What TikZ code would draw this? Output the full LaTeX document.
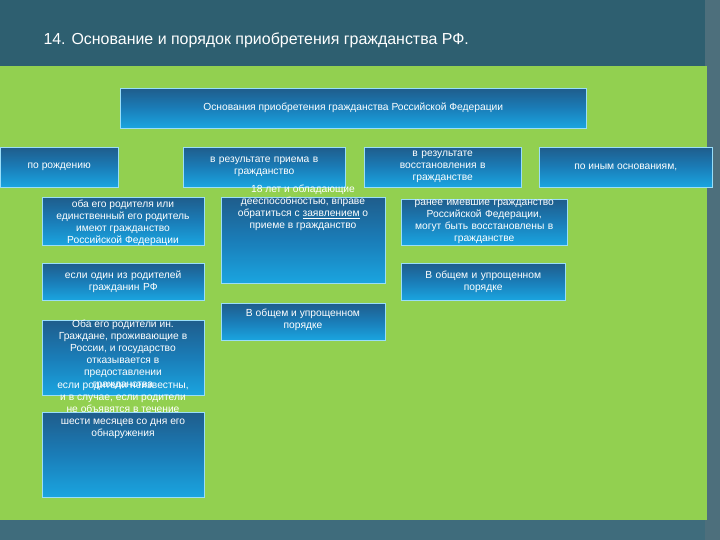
\documentclass[tikz,border=0pt]{standalone}
\usepackage{fontspec}
\setmainfont{Liberation Sans}
\usetikzlibrary{backgrounds}
\begin{document}
\begin{tikzpicture}[x=1bp,y=-1bp,
  fnt/.style={font=\fontsize{10.3}{12}\selectfont},
  bx/.style={draw=cyan!40!white,line width=0.4bp,top color=boxtop,bottom color=boxbot,middle color=boxmid,
     text=white,fnt,align=center,inner sep=1bp,anchor=north west},
  tx/.style={text=white,fnt,align=center,anchor=north,inner sep=0bp},
  ln/.style={draw=linec,line width=0.8bp}]
\definecolor{bg}{HTML}{2E5F70}
\definecolor{bgb}{HTML}{3F6C7C}
\definecolor{strip}{HTML}{4D6F7C}
\definecolor{grn}{HTML}{92D050}
\definecolor{boxtop}{HTML}{1F5D8C}
\definecolor{boxmid}{HTML}{1A7DB8}
\definecolor{boxbot}{HTML}{1AA5E0}
\definecolor{linec}{HTML}{4A8FB8}
\useasboundingbox (0,0) rectangle (720,540);
\fill[bg] (0,0) rectangle (720,540);
\fill[bgb] (0,515) rectangle (720,540);
\fill[strip] (705,0) rectangle (720,540);
\fill[grn] (0,66) rectangle (707,520);
\node[anchor=west,text=white,font=\fontsize{16}{18}\selectfont] (title) at (40,40) {14. Основание и порядок приобретения гражданства РФ.};
% top
\node[bx,minimum width=466bp,minimum height=40bp] (top) at (120,88) {Основания приобретения гражданства Российской Федерации};
% level 1
\node[bx,minimum width=118bp,minimum height=40bp] (a) at (0,147) {по рождению};
\node[bx,minimum width=162bp,minimum height=40bp,text width=160bp] (b) at (183,147) {в результате приема в\\гражданство\\[8bp]};
\node[bx,minimum width=157bp,minimum height=40bp,text width=155bp] (c) at (364,147) {в результате\\восстановления в\\гражданстве};
\node[bx,minimum width=173bp,minimum height=40bp] (d) at (539,147) {по иным основаниям,};
% A children
\node[bx,minimum width=162bp,minimum height=48bp,text width=160bp] (a1) at (42,197) {};
\node[tx] (a1t) at (123,200) {оба его родителя или\\единственный его родитель\\имеют гражданство\\Российской Федерации};
\node[bx,minimum width=162bp,minimum height=37bp,text width=160bp] (a2) at (42,263) {если один из родителей\\гражданин РФ};
\node[bx,minimum width=162bp,minimum height=75bp] (a3) at (42,320) {};
\node[bx,minimum width=162bp,minimum height=85bp] (a4) at (42,412) {};
\node[tx] (a3t) at (123,320) {Оба его родители ин.\\Граждане, проживающие в\\России, и государство\\отказывается в\\предоставлении\\гражданства};
\node[tx] (a4t) at (123,383) {если родители неизвестны,\\и в случае, если родители\\не объявятся в течение\\шести месяцев со дня его\\обнаружения};
% B children
\node[bx,minimum width=164bp,minimum height=86bp] (b1) at (221,197) {};
\node[tx] (b1t) at (303,185) {18 лет и обладающие\\дееспособностью, вправе\\обратиться с \underline{заявлением} о\\приеме в гражданство};
\node[bx,minimum width=164bp,minimum height=37bp] (b2) at (221,303) {};
\node[tx] (b2t) at (303,309) {В общем и упрощенном\\порядке};
% C children
\node[bx,minimum width=164bp,minimum height=46bp,text width=164bp] (c1) at (401,199) {ранее имевшие гражданство\\Российской Федерации,\\могут быть восстановлены в\\гражданстве};
\node[bx,minimum width=164bp,minimum height=37bp,text width=160bp] (c2) at (401,263) {В общем и упрощенном\\порядке};
\begin{scope}[on background layer]
\coordinate (h0) at (352,138);
\draw[ln] (top.south -| h0) -- (h0);
\draw[ln] (82,138) -- (624,138);
\draw[ln] (82,138) -- (82,147);
\draw[ln] (262,138) -- (262,147);
\draw[ln] (444,138) -- (444,147);
\draw[ln] (624,138) -- (624,147);
\draw[ln] (17,187) -- (17,450);
\draw[ln] (17,221) -- (a1.west);
\draw[ln] (17,282) -- (a2.west);
\draw[ln] (17,357) -- (a3.west);
\draw[ln] (17,450) -- (42,450);
\draw[ln] (198,187) -- (198,321);
\draw[ln] (198,240) -- (b1.west);
\draw[ln] (198,321) -- (b2.west);
\draw[ln] (390,187) -- (390,282);
\draw[ln] (390,222) -- (c1.west);
\draw[ln] (390,282) -- (c2.west);
\end{scope}
\end{tikzpicture}
\end{document}
